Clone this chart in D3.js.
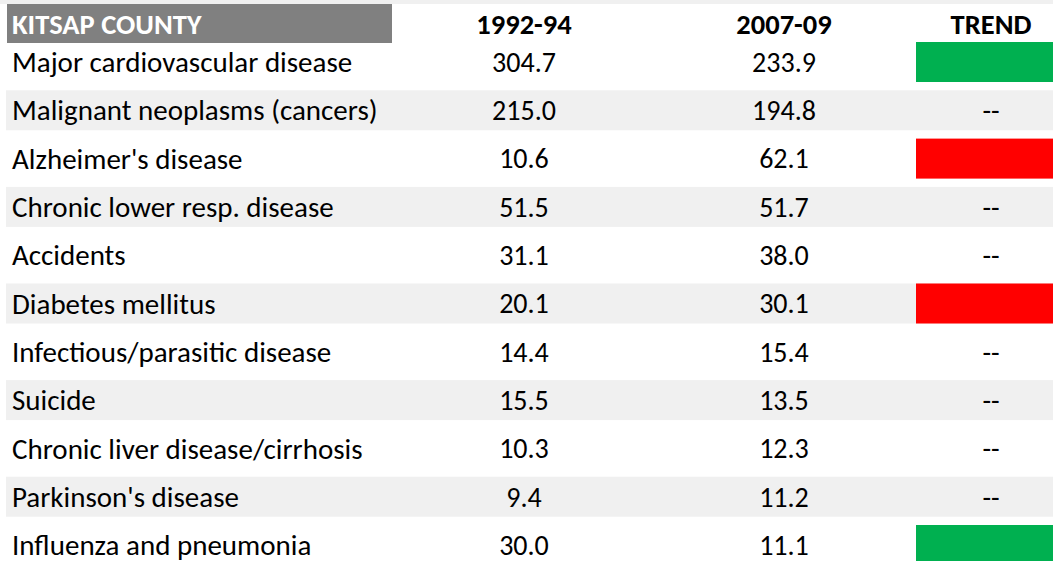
<!DOCTYPE html>
<html lang="en">
<head>
    <meta charset="UTF-8">
    <title>Kitsap County</title>
    <script src="https://d3js.org/d3.v7.min.js"></script>
    <style>
        body { margin: 0; background: #fff; }
        text { font-family: Carlito, Calibri, "Open Sans", sans-serif; }
    </style>
</head>
<body>

<script>
    // Podatki
    var causes = [
        "Major cardiovascular disease",
        "Malignant neoplasms (cancers)",
        "Alzheimer's disease",
        "Chronic lower resp. disease",
        "Accidents",
        "Diabetes mellitus",
        "Infectious/parasitic disease",
        "Suicide",
        "Chronic liver disease/cirrhosis",
        "Parkinson's disease",
        "Influenza and pneumonia"
    ];
    var rate1992 = [304.7, 215.0, 10.6, 51.5, 31.1, 20.1, 14.4, 15.5, 10.3, 9.4, 30.0];
    var rate2007 = [233.9, 194.8, 62.1, 51.7, 38.0, 30.1, 15.4, 13.5, 12.3, 11.2, 11.1];
    // "down" = izboljšanje, "up" = poslabšanje, "" = brez trenda
    var trend = ["down", "", "up", "", "", "up", "", "", "", "", "down"];
    var headers = ["KITSAP COUNTY", "1992-94", "2007-09", "TREND"];

    var width = 1053;
    var height = 561;

    var svg = d3.select("body").append("svg")
        .attr("width", width)
        .attr("height", height);

    var rows = causes.map((c, i) => ({ cause: c, a: rate1992[i], b: rate2007[i], trend: trend[i], i: i }));

    // Skala za vrstice
    var yScale = d3.scaleBand()
        .domain(d3.range(causes.length))
        .range([42, 42 + causes.length * 48.3]);

    // Skala za stolpce (središča)
    var xScale = d3.scaleOrdinal()
        .domain(["a", "b", "trend"])
        .range([524, 784, 991]);

    var cellH = 40;
    var trendColor = { up: "#ff0000", down: "#00b050" };

    // zgornji sivi trak
    svg.append("rect")
        .attr("x", 0).attr("y", 0)
        .attr("width", width).attr("height", 4)
        .attr("fill", "#f0f0f0");

    // izmenični sivi trakovi
    svg.selectAll("rect.band")
        .data(rows.filter((d) => d.i % 2 === 1))
        .enter().append("rect")
        .attr("class", "band")
        .attr("x", 6)
        .attr("y", (d) => yScale(d.i))
        .attr("width", width - 6)
        .attr("height", cellH)
        .attr("fill", "#f0f0f0");

    // glava
    svg.append("rect")
        .attr("x", 7).attr("y", 4)
        .attr("width", 385).attr("height", 39)
        .attr("fill", "#808080");

    svg.append("text")
        .attr("x", 12).attr("y", 24)
        .attr("dy", "0.35em")
        .attr("fill", "#fff")
        .attr("font-weight", "bold")
        .attr("font-size", 28.5)
        .text(headers[0]);

    svg.selectAll("text.head")
        .data(["a", "b", "trend"])
        .enter().append("text")
        .attr("class", "head")
        .attr("x", (d) => xScale(d))
        .attr("y", 24)
        .attr("dy", "0.35em")
        .attr("text-anchor", "middle")
        .attr("font-weight", "bold")
        .attr("font-size", 28.5)
        .text((d, i) => headers[i + 1]);

    // trend celice
    svg.selectAll("rect.trend")
        .data(rows.filter((d) => d.trend))
        .enter().append("rect")
        .attr("class", "trend")
        .attr("x", 916)
        .attr("y", (d) => yScale(d.i))
        .attr("width", width - 916)
        .attr("height", cellH)
        .attr("fill", (d) => trendColor[d.trend]);

    var row = svg.selectAll("g.row")
        .data(rows)
        .enter().append("g")
        .attr("class", "row")
        .attr("transform", (d) => "translate(0," + (yScale(d.i) + cellH / 2) + ")");

    row.append("text")
        .attr("x", 12)
        .attr("dy", "0.35em")
        .attr("font-size", 29)
        .attr("fill", "#000")
        .text((d) => d.cause);

    row.append("text")
        .attr("x", xScale("a"))
        .attr("dy", "0.35em")
        .attr("text-anchor", "middle")
        .attr("font-size", 28)
        .text((d) => d.a.toFixed(1));

    row.append("text")
        .attr("x", xScale("b"))
        .attr("dy", "0.35em")
        .attr("text-anchor", "middle")
        .attr("font-size", 28)
        .text((d) => d.b.toFixed(1));

    row.filter((d) => !d.trend).append("text")
        .attr("x", xScale("trend"))
        .attr("dy", "0.35em")
        .attr("text-anchor", "middle")
        .attr("font-size", 28)
        .text("--");
</script>

</body>
</html>
